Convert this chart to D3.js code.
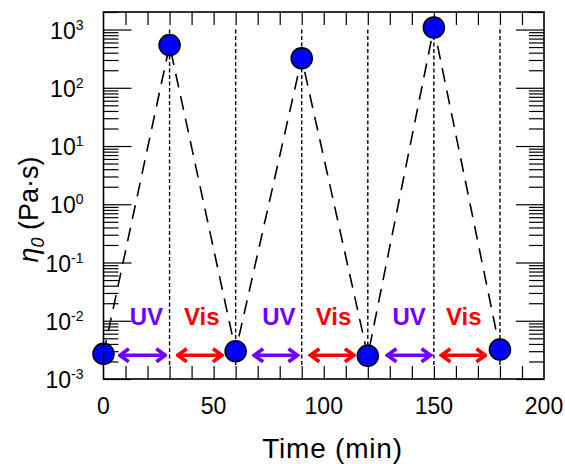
<!DOCTYPE html>
<html lang="en">
<head>
<meta charset="UTF-8">
<title>Viscosity switching</title>
<script src="https://d3js.org/d3.v7.min.js"></script>
<style>
    body { margin: 0; background: #fff; }
    text { font-family: "Liberation Sans", Arial, sans-serif; }
</style>
</head>
<body>
<svg id="chart"></svg>
<script>
    // Data
    var times = [0, 30, 60, 90, 120, 150, 180];
    var viscosity = [0.0027, 540, 0.003, 320, 0.0025, 1080, 0.0032];
    var switchTimes = [30, 60, 90, 120, 150, 180];
    var uvArrows = [[6.5, 29], [67.5, 89], [128, 149.4]];
    var visArrows = [[32.8, 54.7], [93, 114.6], [152.5, 174.3]];
    var uvLabels = [19.5, 79.6, 138.8];
    var visLabels = [44.6, 104.4, 163.6];
    var xTicks = [0, 50, 100, 150, 200];
    var yDecades = [-3, -2, -1, 0, 1, 2, 3];

    var W = 565, H = 464;
    var margin = { top: 12, right: 21, bottom: 85, left: 103.5 };
    var width = W - margin.left - margin.right,
        height = H - margin.top - margin.bottom;

    var svg = d3.select("#chart").attr("width", W).attr("height", H);
    var g = svg.append("g").attr("transform", "translate(" + margin.left + "," + margin.top + ")");

    var x = d3.scaleLinear().domain([0, 200]).range([0, width]);
    var y = d3.scaleLog().domain([1e-3, 2000]).range([height, 0]);

    // arrow heads
    var defs = svg.append("defs");
    [["uv", "#7000ff"], ["vis", "#ff0000"]].forEach(function (m) {
        defs.append("marker")
            .attr("id", "head-" + m[0])
            .attr("viewBox", "0 0 14 16")
            .attr("refX", 12).attr("refY", 8)
            .attr("markerUnits", "userSpaceOnUse")
            .attr("markerWidth", 14).attr("markerHeight", 16)
            .attr("orient", "auto-start-reverse")
            .append("path")
            .attr("d", "M3,1.5 L12,8 L3,14.5")
            .attr("fill", "none")
            .attr("stroke", m[1])
            .attr("stroke-width", 3.6);
    });

    // ticks (inside, all four sides)
    var minor = [];
    yDecades.forEach(function (k) {
        for (var i = 2; i <= 9; i++) {
            var v = i * Math.pow(10, k);
            if (v <= 2000) minor.push(v);
        }
    });
    var major = yDecades.map(function (k) { return Math.pow(10, k); });

    g.append("g").call(d3.axisLeft(y).tickValues(major).tickSize(-28).tickFormat(""))
        .call(function (a) { a.select(".domain").remove(); });
    g.append("g").call(d3.axisLeft(y).tickValues(minor).tickSize(-15).tickFormat(""))
        .call(function (a) { a.select(".domain").remove(); });
    g.append("g").attr("transform", "translate(" + width + ",0)")
        .call(d3.axisRight(y).tickValues(major).tickSize(-28).tickFormat(""))
        .call(function (a) { a.select(".domain").remove(); });
    g.append("g").attr("transform", "translate(" + width + ",0)")
        .call(d3.axisRight(y).tickValues(minor).tickSize(-15).tickFormat(""))
        .call(function (a) { a.select(".domain").remove(); });

    var xMinor = d3.range(10, 200, 10);
    g.append("g").attr("transform", "translate(0," + height + ")")
        .call(d3.axisBottom(x).tickValues(xMinor).tickSize(-13).tickFormat(""))
        .call(function (a) { a.select(".domain").remove(); });
    g.append("g")
        .call(d3.axisTop(x).tickValues(xMinor).tickSize(-13).tickFormat(""))
        .call(function (a) { a.select(".domain").remove(); });
    g.selectAll(".tick line").attr("stroke", "#000").attr("stroke-width", 1.2);

    // tick labels
    g.selectAll(".xlab").data(xTicks).enter().append("text")
        .attr("x", function (d) { return x(d); })
        .attr("y", height + 35)
        .attr("text-anchor", "middle")
        .attr("font-size", 23)
        .text(function (d) { return d; });

    var ylab = g.selectAll(".ylab").data(yDecades).enter().append("text")
        .attr("x", -20)
        .attr("y", function (d) { return y(Math.pow(10, d)) + 9; })
        .attr("text-anchor", "end")
        .attr("font-size", 23);
    ylab.append("tspan").text("10");
    ylab.append("tspan").attr("font-size", 14).attr("dy", -9).text(function (d) { return d; });

    // switching lines
    g.selectAll(".switch").data(switchTimes).enter().append("line")
        .attr("x1", function (d) { return x(d); })
        .attr("x2", function (d) { return x(d); })
        .attr("y1", y(1000))
        .attr("y2", y(0.0017))
        .attr("stroke", "#000")
        .attr("stroke-width", 1.4)
        .attr("stroke-dasharray", "4,2.5");

    // data line
    var pts = times.map(function (t, i) { return [t, viscosity[i]]; });
    g.append("path")
        .datum(pts)
        .attr("d", d3.line().x(function (d) { return x(d[0]); }).y(function (d) { return y(d[1]); }))
        .attr("fill", "none")
        .attr("stroke", "#000")
        .attr("stroke-width", 1.6)
        .attr("stroke-dasharray", "14,9");

    // arrows
    var arrowY = y(0.00255);
    function drawArrows(list, key, color) {
        g.selectAll(".arr-" + key).data(list).enter().append("line")
            .attr("x1", function (d) { return x(d[0]) + 2; })
            .attr("x2", function (d) { return x(d[1]) - 2; })
            .attr("y1", arrowY).attr("y2", arrowY)
            .attr("stroke", color)
            .attr("stroke-width", 3.6)
            .attr("marker-start", "url(#head-" + key + ")")
            .attr("marker-end", "url(#head-" + key + ")");
    }
    drawArrows(uvArrows, "uv", "#7000ff");
    drawArrows(visArrows, "vis", "#ff0000");

    function drawLabels(list, txt, color) {
        g.selectAll(".lab-" + txt).data(list).enter().append("text")
            .attr("x", function (d) { return x(d); })
            .attr("y", y(0.0085))
            .attr("text-anchor", "middle")
            .attr("font-size", 24)
            .attr("font-weight", "bold")
            .attr("fill", color)
            .text(txt);
    }
    drawLabels(uvLabels, "UV", "#7000ff");
    drawLabels(visLabels, "Vis", "#ff0000");

    // markers
    g.selectAll(".pt").data(pts).enter().append("circle")
        .attr("cx", function (d) { return x(d[0]); })
        .attr("cy", function (d) { return y(d[1]); })
        .attr("r", 10.5)
        .attr("fill", "#0000ff")
        .attr("stroke", "#000")
        .attr("stroke-width", 1.6);

    // frame
    g.append("rect")
        .attr("width", width).attr("height", height)
        .attr("fill", "none").attr("stroke", "#000").attr("stroke-width", 1.6);

    // axis titles
    svg.append("text")
        .attr("x", 332.5)
        .attr("y", H - 6)
        .attr("text-anchor", "middle")
        .attr("font-size", 28)
        .attr("letter-spacing", 0.8)
        .text("Time (min)");

    var yt = svg.append("text")
        .attr("transform", "translate(38," + (margin.top + height / 2 + 14) + ") rotate(-90)")
        .attr("text-anchor", "middle")
        .attr("font-size", 27);
    yt.append("tspan").attr("font-style", "italic").text("η");
    yt.append("tspan").attr("font-style", "italic").attr("font-size", 18).attr("dy", 6).text("0");
    yt.append("tspan").attr("dy", -6).text(" (Pa·s)");
</script>
</body>
</html>
